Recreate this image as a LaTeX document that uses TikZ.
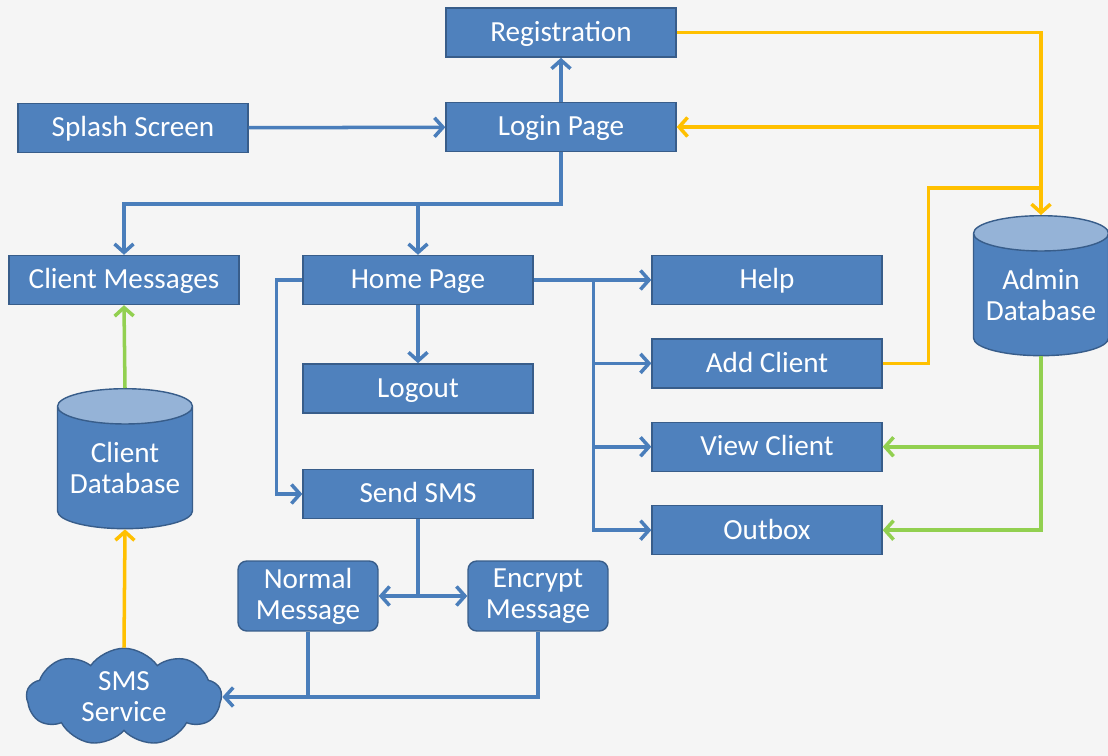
\documentclass[tikz,border=0pt]{standalone}
\usepackage{fontspec}
\setmainfont{Carlito}
\usepackage{xcolor}
\usetikzlibrary{arrows.meta,positioning,calc,shapes.geometric,shapes.symbols}
\definecolor{boxblue}{HTML}{4F81BD}
\definecolor{boxedge}{HTML}{385D8A}
\definecolor{arrblue}{HTML}{4A7EBB}
\definecolor{arryel}{HTML}{FFC000}
\definecolor{arrgrn}{HTML}{92D050}
\definecolor{dbtop}{HTML}{95B3D7}
\definecolor{bgcol}{HTML}{F5F5F5}

\begin{document}
\begin{tikzpicture}[
  x=0.02cm,y=-0.02cm,
  node distance=0.66cm,
  every node/.style={font=\fontsize{16.6}{17.6}\selectfont,text=white,align=center},
  box/.style={draw=boxedge,line width=0.8pt,fill=boxblue,minimum width=4.6cm,minimum height=0.98cm,
    inner sep=2pt,text height=12pt,text depth=1.8pt},
  rbox/.style={draw=boxedge,line width=0.8pt,fill=boxblue,rounded corners=5pt,minimum width=2.8cm,minimum height=1.4cm,inner sep=2pt},
  db/.style={cylinder,shape border rotate=90,aspect=0.32,draw=boxedge,line width=0.8pt,
    cylinder uses custom fill,cylinder body fill=boxblue,cylinder end fill=dbtop,
    minimum width=2.7cm,minimum height=2.8cm,inner sep=0pt,anchor=top},
  cld/.style={cloud,cloud puffs=9,cloud puff arc=110,aspect=2,draw=boxedge,line width=0.8pt,fill=boxblue,
    minimum width=3.9cm,minimum height=1.95cm,inner sep=0pt},
  arr/.style={-{Straight Barb[length=1.7mm,width=3.8mm]},line width=2pt,draw=arrblue},
  yarr/.style={arr,draw=arryel},
  garr/.style={arr,draw=arrgrn},
  bline/.style={line width=2pt,draw=arrblue},
  yline/.style={bline,draw=arryel}
]
\fill[bgcol] (0,0) rectangle (1108,756);
\useasboundingbox (0,0) rectangle (1108,756);

\node[box] (login) at (561,127) {Login Page};
\node[box,above=0.88cm of login] (reg) {Registration};
\node[box] (splash) at (133,128) {Splash Screen};
\node[box] (cmsg) at (124,280) {Client Messages};
\node[box] (home) at (418,280) {Home Page};
\node[box,below=1.16cm of home] (logout) {Logout};
\node[box] (sendsms) at (418,494) {Send SMS};
\node[box] (help) at (767,280) {Help};
\node[box,below=of help] (addc) {Add Client};
\node[box,below=of addc] (viewc) {View Client};
\node[box,below=of viewc] (outbox) {Outbox};
\node[rbox] (normal) at (308,596) {Normal\\Message};
\node[rbox] (encrypt) at (538,596) {Encrypt\\Message};
\node[db] (cdb) at (125,388) {Client\\Database};
\node[db] (admin) at (1041,215) {Admin\\Database};
\node[cld] (sms) at (124,697) {SMS\\Service};

% blue flow
\draw[arr] (splash) -- (login);
\draw[arr] (login) -- (reg);
\draw[arr] (login.south) -- ++(0,52) -| (cmsg.north);
\draw[arr] (login.south) -- ++(0,52) -| (home.north);
\draw[arr] (home) -- (help);
\coordinate (hj) at ($(home.east)+(60,0)$);
\draw[bline] (hj) -- (hj |- outbox.west);
\foreach \n in {addc,viewc,outbox}
  \draw[arr] (hj) |- (\n.west);
\draw[arr] (home) -- (logout);
\draw[arr] (home.west) -- ++(-26,0) |- (sendsms.west);
\draw[arr] (sendsms.south) |- (normal.east);
\draw[arr] (sendsms.south) |- (encrypt.west);
\draw[arr] (encrypt.south) |- (sms.east);
\draw[bline] (normal.south) -- (normal.south |- sms.east);

% database links
\draw[yarr] (reg.east) -| (admin.top);
\draw[yarr] (reg.east -| admin.top) |- (login.east);
\draw[yline] (addc.east) -- ++(46,0) |- ($(admin.top)+(0,-27)$);
\draw[yarr] (sms.north) -- (cdb.bottom);
\draw[garr] (cdb.top) -- (cmsg.south);
\draw[garr] (admin.bottom) |- (viewc.east);
\draw[garr] (admin.bottom) |- (outbox.east);
\end{tikzpicture}
\end{document}
